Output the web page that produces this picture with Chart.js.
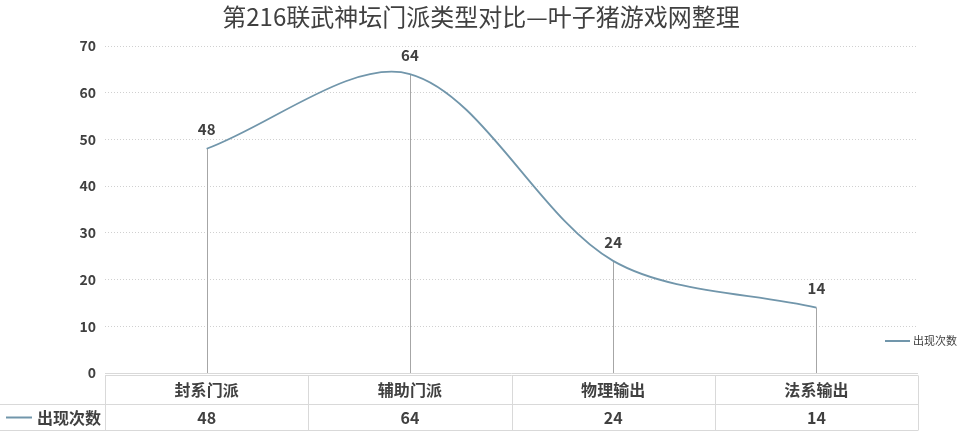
<!DOCTYPE html>
<html>
<head>
<meta charset="utf-8">
<script src="https://cdn.jsdelivr.net/npm/chart.js@4.4.0/dist/chart.umd.min.js"></script>
<style>
  html, body { margin: 0; padding: 0; background: #fff; }
  #wrap { width: 962px; height: 442px; }
</style>
</head>
<body>
<div id="wrap"><canvas id="typeChart"></canvas></div>
<script>
var categories = ["封系门派", "辅助门派", "物理输出", "法系输出"];
var seriesName = "出现次数";
var counts = [48, 64, 24, 14];
var yMin = 0, yMax = 70, yStep = 10;

var FONT = '"Noto Sans CJK SC", "Noto Sans", sans-serif';
var TEXT = '#404040';
var LINE = '#7196ab';
var GRID = '#d0d0d0';

// drop lines, point labels, data table and the small legend
var extras = {
  id: 'extras',
  beforeDatasetsDraw: function (chart) {
    var ctx = chart.ctx, a = chart.chartArea;
    var meta = chart.getDatasetMeta(0);
    ctx.save();
    ctx.strokeStyle = '#a6a6a6';
    ctx.lineWidth = 1;
    meta.data.forEach(function (p) {
      var px = Math.round(p.x) + 0.5;
      ctx.beginPath();
      ctx.moveTo(px, p.y);
      ctx.lineTo(px, a.bottom);
      ctx.stroke();
    });
    ctx.restore();
  },
  afterDatasetsDraw: function (chart) {
    var ctx = chart.ctx, a = chart.chartArea, x = chart.scales.x;
    var meta = chart.getDatasetMeta(0);
    ctx.save();
    ctx.fillStyle = TEXT;
    ctx.font = 'bold 15px ' + FONT;
    ctx.textAlign = 'center';
    ctx.textBaseline = 'middle';
    meta.data.forEach(function (p, i) {
      ctx.fillText(String(counts[i]), p.x, p.y - 19);
    });

    // axis line + table
    var step = (x.getPixelForValue(1) - x.getPixelForValue(0));
    var top = a.bottom + 2.5;
    var mid = top + 29;
    var bot = mid + 26;
    ctx.strokeStyle = '#d9d9d9';
    ctx.lineWidth = 1;
    ctx.beginPath();
    ctx.moveTo(a.left, a.bottom + 0.5); ctx.lineTo(a.right, a.bottom + 0.5);
    ctx.moveTo(a.left, top); ctx.lineTo(a.right, top);
    ctx.moveTo(0, mid); ctx.lineTo(a.right, mid);
    ctx.moveTo(0, bot); ctx.lineTo(a.right, bot);
    for (var i = 0; i <= categories.length; i++) {
      var bx = Math.round(x.getPixelForValue(i) - step / 2) + 0.5;
      ctx.moveTo(bx, top); ctx.lineTo(bx, bot);
    }
    ctx.stroke();

    ctx.font = 'bold 16px ' + FONT;
    ctx.textBaseline = 'middle';
    ctx.textAlign = 'center';
    categories.forEach(function (c, i) {
      var cx = x.getPixelForValue(i);
      ctx.fillText(c, cx, (top + mid) / 2);
      ctx.fillText(String(counts[i]), cx, (mid + bot) / 2);
    });
    // table legend cell
    ctx.strokeStyle = LINE;
    ctx.lineWidth = 2;
    ctx.beginPath();
    ctx.moveTo(6, (mid + bot) / 2); ctx.lineTo(32, (mid + bot) / 2);
    ctx.stroke();
    ctx.textAlign = 'left';
    ctx.fillText(seriesName, 37, (mid + bot) / 2);

    // right legend
    ctx.beginPath();
    ctx.moveTo(885, 341); ctx.lineTo(910, 341);
    ctx.stroke();
    ctx.font = '11px ' + FONT;
    ctx.fillText(seriesName, 913, 341);
    ctx.restore();
  }
};

var ctx = document.getElementById("typeChart").getContext("2d");
var myChart = new Chart(ctx, {
  type: 'line',
  data: {
    labels: categories,
    datasets: [{
      label: seriesName,
      data: counts,
      borderColor: LINE,
      borderWidth: 1.8,
      tension: 0.32,
      pointRadius: 0,
      fill: false
    }]
  },
  options: {
    responsive: true,
    maintainAspectRatio: false,
    animation: false,
    layout: { padding: { left: 44, right: 44, top: 0, bottom: 69 } },
    plugins: {
      legend: { display: false },
      tooltip: { enabled: false },
      title: {
        display: true,
        text: '第216联武神坛门派类型对比—叶子猪游戏网整理',
        color: TEXT,
        font: { family: FONT, size: 24, weight: 'normal' },
        padding: { top: 2, bottom: 15.2 }
      }
    },
    scales: {
      x: {
        display: false,
        offset: true
      },
      y: {
        min: yMin,
        max: yMax,
        afterFit: function (s) { s.width = 61; },
        border: { display: false, dash: [1, 2] },
        grid: {
          color: function (c) { return c.tick && c.tick.value === 0 ? 'rgba(0,0,0,0)' : GRID; },
          drawTicks: false
        },
        ticks: {
          stepSize: yStep,
          padding: 9,
          color: TEXT,
          font: { family: FONT, size: 14, weight: 'bold' }
        }
      }
    }
  },
  plugins: [extras]
});
</script>
</body>
</html>
